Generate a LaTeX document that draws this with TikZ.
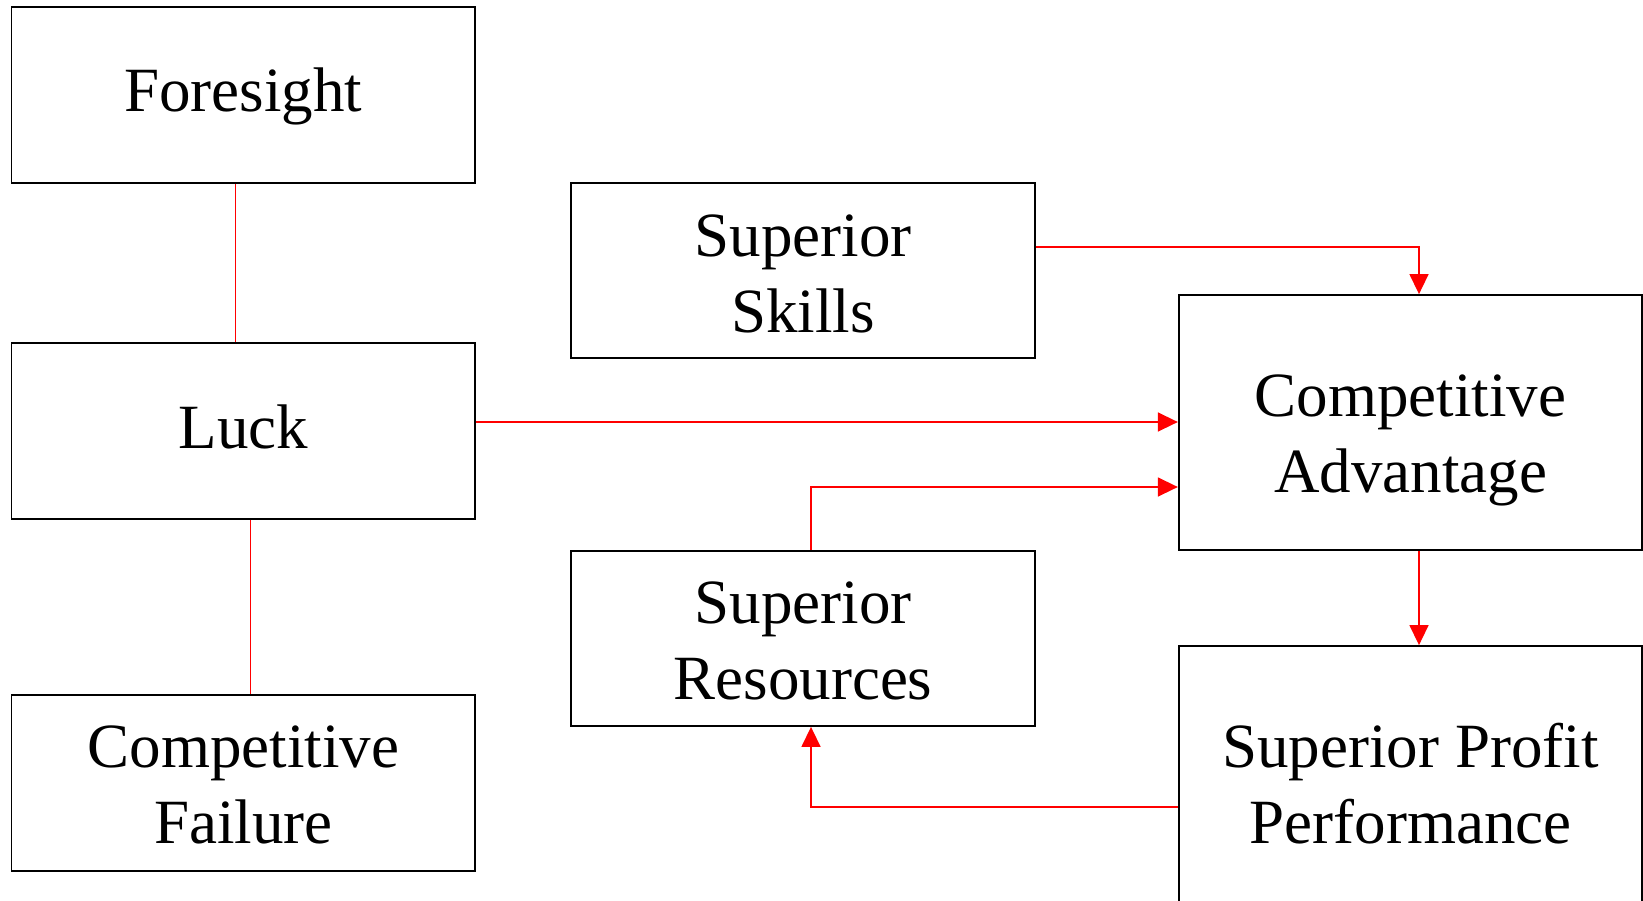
\documentclass[tikz,border=0pt]{standalone}
\usepackage{fontspec}
\setmainfont{Liberation Serif}
\usetikzlibrary{arrows.meta}
\begin{document}
\begin{tikzpicture}[x=1pt,y=-1pt,
  box/.style={draw=black,line width=1.8pt,inner sep=0pt,minimum width=463.5pt},
  txt/.style={inner sep=0pt,align=center,font=\fontsize{63}{76}\selectfont},
  conn/.style={draw=red,line width=1.5pt},
  arr/.style={conn,-{Triangle[length=20pt,width=19pt]}}]
\useasboundingbox (0,0) rectangle (1643,900);
\node[box,minimum height=176pt] (fore) at (243.25,95) {};
\node[box,minimum height=176pt] (luck) at (243.25,431) {};
\node[box,minimum height=176pt] (fail) at (243.25,783) {};
\node[box,minimum height=175pt] (skills) at (803,270.5) {};
\node[box,minimum height=175pt] (res) at (803,638.5) {};
\node[box,minimum height=255pt] (ca) at (1410.5,422.5) {};
\node[box,minimum height=262pt] (spp) at (1410.5,777) {};
\node[txt] (foret) at ([yshift=-1]fore.center) {Foresight};
\node[txt] (luckt) at ([yshift=4]luck.center) {Luck};
\node[txt] (failt) at ([yshift=-2]fail.center) {Competitive\\Failure};
\node[txt] (skillst) at ([yshift=-3]skills.center) {Superior\\Skills};
\node[txt] (rest) at ([yshift=-2]res.center) {Superior\\Resources};
\node[txt] (cat) at ([yshift=-18]ca.center) {Competitive\\Advantage};
\node[txt] (sppt) at ([yshift=-7]spp.center) {Superior Profit\\Performance};
\draw[conn] ([xshift=-8]fore.south) -- ([xshift=-8]luck.north);
\draw[conn] ([xshift=7]luck.south) -- ([xshift=7]fail.north);
\draw[arr] ([yshift=9]luck.east) -- ([yshift=9]luck.east -| ca.west);
\draw[arr] ([yshift=23.5]skills.east) -| ([xshift=8.5]ca.north);
\draw[arr] ([xshift=8]res.north) |- ([yshift=-64.5]ca.west);
\draw[arr] ([xshift=8.5]ca.south) -- ([xshift=8.5]spp.north);
\draw[arr] ([yshift=-30]spp.west) -| ([xshift=8]res.south);
\end{tikzpicture}
\end{document}
